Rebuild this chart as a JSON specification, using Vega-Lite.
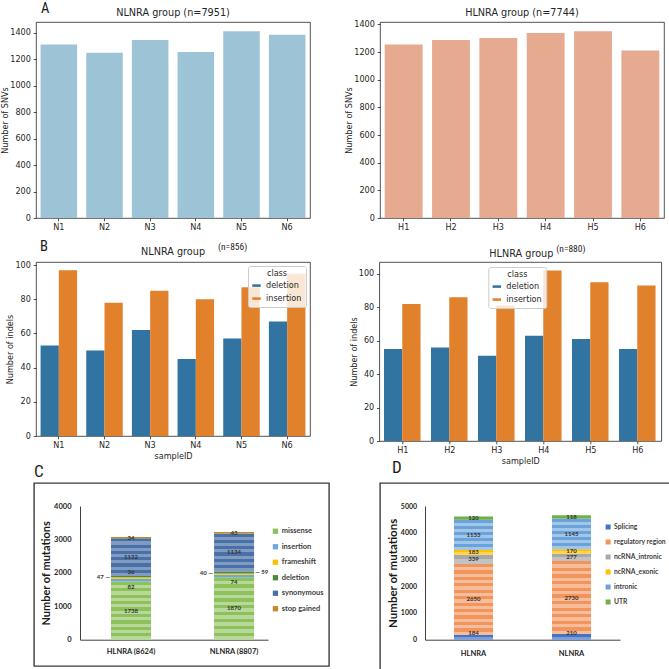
{
  "$schema": "https://vega.github.io/schema/vega-lite/v6.json",
  "autosize": {"type": "pad"},
  "padding": 0,
  "background": "white",
  "config": {
    "font": "DejaVu Sans",
    "view": {"stroke": "#262626", "strokeWidth": 0.8},
    "axis": {
      "grid": false, "domain": false, "labelOverlap": false, "tickCount": 20,
      "tickColor": "#262626", "tickSize": 2.8, "tickWidth": 0.8,
      "labelFont": "DejaVu Sans", "labelFontSize": 8.1, "labelColor": "#262626", "labelPadding": 2.8,
      "titleFont": "DejaVu Sans", "titleFontSize": 8.1, "titleFontWeight": "normal", "titleColor": "#262626", "titlePadding": 0.2
    },
    "title": {"font": "DejaVu Sans", "fontSize": 9.7, "fontWeight": "normal", "color": "#262626", "offset": 4},
    "legend": {"labelFont": "DejaVu Sans", "titleFont": "DejaVu Sans"}
  },
  "datasets": {
    "snv": [
      {"sample": "N1", "group": "NLNRA", "count": 1311},
      {"sample": "N2", "group": "NLNRA", "count": 1248},
      {"sample": "N3", "group": "NLNRA", "count": 1344},
      {"sample": "N4", "group": "NLNRA", "count": 1253},
      {"sample": "N5", "group": "NLNRA", "count": 1410},
      {"sample": "N6", "group": "NLNRA", "count": 1385},
      {"sample": "H1", "group": "HLNRA", "count": 1254},
      {"sample": "H2", "group": "HLNRA", "count": 1288},
      {"sample": "H3", "group": "HLNRA", "count": 1302},
      {"sample": "H4", "group": "HLNRA", "count": 1338},
      {"sample": "H5", "group": "HLNRA", "count": 1350},
      {"sample": "H6", "group": "HLNRA", "count": 1212}
    ],
    "indel": [
      {"sample": "N1", "group": "NLNRA", "class": "deletion", "count": 53},
      {"sample": "N1", "group": "NLNRA", "class": "insertion", "count": 97},
      {"sample": "N2", "group": "NLNRA", "class": "deletion", "count": 50},
      {"sample": "N2", "group": "NLNRA", "class": "insertion", "count": 78},
      {"sample": "N3", "group": "NLNRA", "class": "deletion", "count": 62},
      {"sample": "N3", "group": "NLNRA", "class": "insertion", "count": 85},
      {"sample": "N4", "group": "NLNRA", "class": "deletion", "count": 45},
      {"sample": "N4", "group": "NLNRA", "class": "insertion", "count": 80},
      {"sample": "N5", "group": "NLNRA", "class": "deletion", "count": 57},
      {"sample": "N5", "group": "NLNRA", "class": "insertion", "count": 87},
      {"sample": "N6", "group": "NLNRA", "class": "deletion", "count": 67},
      {"sample": "N6", "group": "NLNRA", "class": "insertion", "count": 95},
      {"sample": "H1", "group": "HLNRA", "class": "deletion", "count": 55},
      {"sample": "H1", "group": "HLNRA", "class": "insertion", "count": 82},
      {"sample": "H2", "group": "HLNRA", "class": "deletion", "count": 56},
      {"sample": "H2", "group": "HLNRA", "class": "insertion", "count": 86},
      {"sample": "H3", "group": "HLNRA", "class": "deletion", "count": 51},
      {"sample": "H3", "group": "HLNRA", "class": "insertion", "count": 81},
      {"sample": "H4", "group": "HLNRA", "class": "deletion", "count": 63},
      {"sample": "H4", "group": "HLNRA", "class": "insertion", "count": 102},
      {"sample": "H5", "group": "HLNRA", "class": "deletion", "count": 61},
      {"sample": "H5", "group": "HLNRA", "class": "insertion", "count": 95},
      {"sample": "H6", "group": "HLNRA", "class": "deletion", "count": 55},
      {"sample": "H6", "group": "HLNRA", "class": "insertion", "count": 93}
    ],
    "coding": [
      {"group": "HLNRA (8624)", "type": "missense", "count": 1738},
      {"group": "HLNRA (8624)", "type": "insertion", "count": 82},
      {"group": "HLNRA (8624)", "type": "frameshift", "count": 47},
      {"group": "HLNRA (8624)", "type": "deletion", "count": 36},
      {"group": "HLNRA (8624)", "type": "synonymous", "count": 1132},
      {"group": "HLNRA (8624)", "type": "stop gained", "count": 34},
      {"group": "NLNRA (8807)", "type": "missense", "count": 1870},
      {"group": "NLNRA (8807)", "type": "insertion", "count": 74},
      {"group": "NLNRA (8807)", "type": "frameshift", "count": 40},
      {"group": "NLNRA (8807)", "type": "deletion", "count": 59},
      {"group": "NLNRA (8807)", "type": "synonymous", "count": 1134},
      {"group": "NLNRA (8807)", "type": "stop gained", "count": 43}
    ],
    "region": [
      {"group": "HLNRA", "type": "Splicing", "count": 184},
      {"group": "HLNRA", "type": "regulatory region", "count": 2650},
      {"group": "HLNRA", "type": "ncRNA_intronic", "count": 339},
      {"group": "HLNRA", "type": "ncRNA_exonic", "count": 183},
      {"group": "HLNRA", "type": "intronic", "count": 1133},
      {"group": "HLNRA", "type": "UTR", "count": 120},
      {"group": "NLNRA", "type": "Splicing", "count": 210},
      {"group": "NLNRA", "type": "regulatory region", "count": 2730},
      {"group": "NLNRA", "type": "ncRNA_intronic", "count": 277},
      {"group": "NLNRA", "type": "ncRNA_exonic", "count": 170},
      {"group": "NLNRA", "type": "intronic", "count": 1145},
      {"group": "NLNRA", "type": "UTR", "count": 118}
    ]
  },
  "resolve": {"scale": {"color": "independent"}, "legend": {"color": "independent"}},
  "align": "none",
  "spacing": 5,
  "vconcat": [
    {
      "spacing": 0,
      "resolve": {"scale": {"color": "independent"}, "legend": {"color": "independent"}},
      "hconcat": [
        {"width": 0.5, "height": 1, "data": {"values": []}, "mark": "point", "view": {"stroke": null}},
        {
          "spacing": 34,
          "resolve": {"scale": {"color": "independent"}, "legend": {"color": "independent"}},
          "hconcat": [
            {
              "width": 274, "height": 196,
              "layer": [
                {
                  "data": {"name": "snv"},
                  "transform": [{"filter": "datum.group === 'NLNRA'"}],
                  "mark": {"type": "bar", "color": "#9dc3d6"},
                  "encoding": {
                    "x": {"field": "sample", "type": "nominal", "scale": {"domain": ["N1", "N2", "N3", "N4", "N5", "N6"], "paddingInner": 0.2, "paddingOuter": 0.1}, "axis": {"title": null, "labelAngle": 0}},
                    "y": {"field": "count", "type": "quantitative", "scale": {"domain": [0, 1480.5], "nice": false}, "axis": {"title": "Number of SNVs", "values": [0, 200, 400, 600, 800, 1000, 1200, 1400], "tickCount": 20, "format": "d", "labelOverlap": false}}
                  }
                },
                {
                  "data": {"values": [{}]},
                  "mark": {"type": "text", "text": "NLNRA group (n=7951)", "fontSize": 9.7, "align": "center", "baseline": "alphabetic", "dx": -22.8, "color": "#262626"},
                  "encoding": {
                    "x": {"datum": "N4", "type": "nominal"},
                    "y": {"datum": 1525.8, "type": "quantitative"}
                  }
                },
                {
                  "data": {"values": [{}]},
                  "mark": {"type": "text", "text": "A", "font": "Liberation Sans Narrow, Roboto Condensed, DejaVu Sans Condensed, Liberation Sans", "fontSize": 14.5, "align": "left", "baseline": "alphabetic", "dx": -17.8, "color": "#1a1a1a"},
                  "encoding": {
                    "x": {"datum": "N1", "type": "nominal"},
                    "y": {"datum": 1552, "type": "quantitative"}
                  }
                }
              ]
            },
            {
              "width": 284, "height": 196,
              "layer": [
                {
                  "data": {"name": "snv"},
                  "transform": [{"filter": "datum.group === 'HLNRA'"}],
                  "mark": {"type": "bar", "color": "#e5aa8f"},
                  "encoding": {
                    "x": {"field": "sample", "type": "nominal", "scale": {"domain": ["H1", "H2", "H3", "H4", "H5", "H6"], "paddingInner": 0.2, "paddingOuter": 0.1}, "axis": {"title": null, "labelAngle": 0}},
                    "y": {"field": "count", "type": "quantitative", "scale": {"domain": [0, 1417.5], "nice": false}, "axis": {"title": "Number of SNVs", "values": [0, 200, 400, 600, 800, 1000, 1200, 1400], "tickCount": 20, "format": "d", "labelOverlap": false}}
                  }
                },
                {
                  "data": {"values": [{}]},
                  "mark": {"type": "text", "text": "HLNRA group (n=7744)", "fontSize": 9.7, "align": "center", "baseline": "alphabetic", "dx": -23.7, "color": "#262626"},
                  "encoding": {
                    "x": {"datum": "H4", "type": "nominal"},
                    "y": {"datum": 1460.9, "type": "quantitative"}
                  }
                }
              ]
            }
          ]
        }
      ]
    },
    {
      "align": "none",
      "spacing": -9,
      "resolve": {"scale": {"color": "independent"}, "legend": {"color": "independent"}},
      "vconcat": [
        {
          "spacing": 0,
          "resolve": {"scale": {"color": "independent"}, "legend": {"color": "independent"}},
          "hconcat": [
            {"width": 5.7, "height": 1, "data": {"values": []}, "mark": "point", "view": {"stroke": null}},
            {
              "spacing": 38.3,
              "resolve": {"scale": {"color": "independent"}, "legend": {"color": "independent"}},
              "hconcat": [
                {
                  "width": 274, "height": 174,
                  "layer": [
                    {
                      "data": {"name": "indel"},
                      "transform": [{"filter": "datum.group === 'NLNRA'"}],
                      "mark": {"type": "bar"},
                      "encoding": {
                        "x": {"field": "sample", "type": "nominal", "scale": {"domain": ["N1", "N2", "N3", "N4", "N5", "N6"], "paddingInner": 0.2, "paddingOuter": 0.1}, "axis": {"title": "sampleID", "titlePadding": 3.2, "labelAngle": 0}},
                        "xOffset": {"field": "class", "type": "nominal", "scale": {"domain": ["deletion", "insertion"], "paddingInner": 0, "paddingOuter": 0}},
                        "y": {"field": "count", "type": "quantitative", "scale": {"domain": [0, 101.85], "nice": false}, "axis": {"title": "Number of indels", "values": [0, 20, 40, 60, 80, 100], "tickCount": 20, "format": "d", "labelOverlap": false}},
                        "color": {
                          "field": "class", "type": "nominal",
                          "scale": {"domain": ["deletion", "insertion"], "range": ["#3274a1", "#e1812c"]},
                          "legend": {
                            "title": "class", "orient": "top-right", "offset": 4,
                            "titleAnchor": "middle", "titleFontWeight": "normal", "titleFontSize": 8.1, "titleColor": "#262626", "titlePadding": 3,
                            "labelFontSize": 8.1, "labelColor": "#262626", "labelOffset": 5,
                            "symbolType": "M-1,-0.3H1V0.3H-1Z", "symbolSize": 72, "symbolStrokeWidth": 0, "symbolOpacity": 1,
                            "rowPadding": 4, "padding": 4,
                            "fillColor": "rgba(255,255,255,0.8)", "strokeColor": "#cccccc", "cornerRadius": 2
                          }
                        }
                      }
                    },
                    {
                      "data": {"values": [{}]},
                      "mark": {"type": "text", "text": "NLNRA group", "fontSize": 9.7, "align": "center", "baseline": "alphabetic", "dx": -22.8, "color": "#262626"},
                      "encoding": {
                        "x": {"datum": "N4", "type": "nominal"},
                        "y": {"datum": 105.95, "type": "quantitative"}
                      }
                    },
                    {
                      "data": {"values": [{}]},
                      "mark": {"type": "text", "text": "B", "font": "Liberation Sans Narrow, Roboto Condensed, DejaVu Sans Condensed, Liberation Sans", "fontSize": 14.5, "align": "left", "baseline": "alphabetic", "dx": -18.8, "color": "#1a1a1a"},
                      "encoding": {
                        "x": {"datum": "N1", "type": "nominal"},
                        "y": {"datum": 108.3, "type": "quantitative"}
                      }
                    },
                    {
                      "data": {"values": [{}]},
                      "mark": {"type": "text", "text": "(n=856)", "font": "Liberation Sans Narrow, Roboto Condensed, DejaVu Sans Condensed, Liberation Sans", "fontSize": 9.5, "align": "left", "baseline": "alphabetic", "dx": -23.5, "color": "#262626"},
                      "encoding": {
                        "x": {"datum": "N5", "type": "nominal"},
                        "y": {"datum": 108.9, "type": "quantitative"}
                      }
                    }
                  ]
                },
                {
                  "width": 282, "height": 179,
                  "layer": [
                    {
                      "data": {"name": "indel"},
                      "transform": [{"filter": "datum.group === 'HLNRA'"}],
                      "mark": {"type": "bar"},
                      "encoding": {
                        "x": {"field": "sample", "type": "nominal", "scale": {"domain": ["H1", "H2", "H3", "H4", "H5", "H6"], "paddingInner": 0.2, "paddingOuter": 0.1}, "axis": {"title": "sampleID", "titlePadding": 3.2, "labelAngle": 0}},
                        "xOffset": {"field": "class", "type": "nominal", "scale": {"domain": ["deletion", "insertion"], "paddingInner": 0, "paddingOuter": 0}},
                        "y": {"field": "count", "type": "quantitative", "scale": {"domain": [0, 107.1], "nice": false}, "axis": {"title": "Number of indels", "values": [0, 20, 40, 60, 80, 100], "tickCount": 20, "format": "d", "labelOverlap": false}},
                        "color": {
                          "field": "class", "type": "nominal",
                          "scale": {"domain": ["deletion", "insertion"], "range": ["#3274a1", "#e1812c"]},
                          "legend": {
                            "title": "class", "orient": "none", "legendX": 109, "legendY": 5,
                            "titleAnchor": "middle", "titleFontWeight": "normal", "titleFontSize": 8.1, "titleColor": "#262626", "titlePadding": 3,
                            "labelFontSize": 8.1, "labelColor": "#262626", "labelOffset": 5,
                            "symbolType": "M-1,-0.3H1V0.3H-1Z", "symbolSize": 72, "symbolStrokeWidth": 0, "symbolOpacity": 1,
                            "rowPadding": 4, "padding": 4,
                            "fillColor": "rgba(255,255,255,0.8)", "strokeColor": "#cccccc", "cornerRadius": 2
                          }
                        }
                      }
                    },
                    {
                      "data": {"values": [{}]},
                      "mark": {"type": "text", "text": "HLNRA group", "fontSize": 9.7, "align": "center", "baseline": "alphabetic", "dx": -22.5, "color": "#262626"},
                      "encoding": {
                        "x": {"datum": "H4", "type": "nominal"},
                        "y": {"datum": 110.1, "type": "quantitative"}
                      }
                    },
                    {
                      "data": {"values": [{}]},
                      "mark": {"type": "text", "text": "(n=880)", "font": "Liberation Sans Narrow, Roboto Condensed, DejaVu Sans Condensed, Liberation Sans", "fontSize": 9.5, "align": "left", "baseline": "alphabetic", "dx": 12.5, "color": "#262626"},
                      "encoding": {
                        "x": {"datum": "H4", "type": "nominal"},
                        "y": {"datum": 113.1, "type": "quantitative"}
                      }
                    }
                  ]
                }
              ]
            }
          ]
        },
        {
          "spacing": 0,
          "resolve": {"scale": {"color": "independent"}, "legend": {"color": "independent"}},
          "hconcat": [
            {"width": 33, "height": 1, "data": {"values": []}, "mark": "point", "view": {"stroke": null}},
            {
              "spacing": 49,
              "resolve": {"scale": {"color": "independent"}, "legend": {"color": "independent"}},
              "hconcat": [
                {
                  "width": 295, "height": 183,
                  "data": {"name": "coding"},
                  "view": {"stroke": "#3b3b3b", "strokeWidth": 1.4},
                  "title": {"text": "C", "anchor": "start", "frame": "group", "offset": 2, "font": "Liberation Sans Narrow, Roboto Condensed, DejaVu Sans Condensed, Liberation Sans", "fontSize": 17, "color": "#1a1a1a"},
                  "transform": [
                    {"calculate": "indexof(['missense','insertion','frameshift','deletion','synonymous','stop gained'], datum.type)", "as": "k"},
                    {"stack": "count", "groupby": ["group"], "sort": [{"field": "k", "order": "ascending"}], "as": ["lo", "hi"]},
                    {"calculate": "(datum.lo + datum.hi) / 2", "as": "mid"}
                  ],
                  "layer": [
                    {
                      "mark": {"type": "bar"},
                      "encoding": {
                        "x": {"field": "group", "type": "nominal", "scale": {"domain": ["HLNRA (8624)", "NLNRA (8807)"], "range": [46, 234], "paddingInner": 0.612, "paddingOuter": 0.218, "align": 0.69}, "axis": {"title": null, "offset": -26.3, "domain": true, "domainColor": "#404040", "domainWidth": 1, "ticks": false, "labelAngle": 0, "labelPadding": 8, "labelFont": "Lato", "labelFontWeight": "bold", "labelFontSize": 7.5, "labelColor": "#262626"}},
                        "y": {"field": "lo", "type": "quantitative", "scale": {"domain": [0, 4000], "range": [156.7, 23], "nice": false}, "axis": {"title": "Number of mutations", "offset": -46, "values": [0, 1000, 2000, 3000, 4000], "tickCount": 20, "format": "d", "labelOverlap": false, "domain": true, "domainColor": "#404040", "domainWidth": 1, "ticks": false, "labelPadding": 9, "labelFont": "Lato", "labelFontWeight": "bold", "labelFontSize": 7.5, "labelColor": "#262626", "titleFont": "Lato", "titleFontWeight": "bold", "titleFontSize": 11, "titleColor": "#1a1a1a", "titlePadding": 2}},
                        "y2": {"field": "hi"},
                        "color": {
                          "field": "type", "type": "nominal",
                          "scale": {"domain": ["missense", "insertion", "frameshift", "deletion", "synonymous", "stop gained"], "range": ["#8cc15c", "#6ea6dd", "#ffc000", "#4b8a3a", "#4a70a8", "#c5892c"]},
                          "legend": {"title": null, "orient": "none", "legendX": 237.7, "legendY": 44.5, "symbolType": "square", "symbolSize": 28, "symbolStrokeWidth": 0, "symbolOpacity": 1, "labelFont": "Lato", "labelFontWeight": "bold", "labelFontSize": 7.5, "labelColor": "#404040", "labelOffset": 2.5, "rowPadding": 6.5, "padding": 0}
                        }
                      }
                    },
                    {
                      "transform": [{"filter": "datum.type === 'missense'"}],
                      "mark": {"type": "bar", "fill": {"gradient": "linear", "x1": 0, "y1": 0, "x2": 0, "y2": 1, "stops": [
                        {"offset": 0, "color": "rgba(255,255,255,0)"},
                        {"offset": 0.0556, "color": "rgba(255,255,255,0)"}, {"offset": 0.0556, "color": "rgba(255,255,255,0.38)"},
                        {"offset": 0.1111, "color": "rgba(255,255,255,0.38)"}, {"offset": 0.1111, "color": "rgba(255,255,255,0)"},
                        {"offset": 0.1667, "color": "rgba(255,255,255,0)"}, {"offset": 0.1667, "color": "rgba(255,255,255,0.38)"},
                        {"offset": 0.2222, "color": "rgba(255,255,255,0.38)"}, {"offset": 0.2222, "color": "rgba(255,255,255,0)"},
                        {"offset": 0.2778, "color": "rgba(255,255,255,0)"}, {"offset": 0.2778, "color": "rgba(255,255,255,0.38)"},
                        {"offset": 0.3333, "color": "rgba(255,255,255,0.38)"}, {"offset": 0.3333, "color": "rgba(255,255,255,0)"},
                        {"offset": 0.3889, "color": "rgba(255,255,255,0)"}, {"offset": 0.3889, "color": "rgba(255,255,255,0.38)"},
                        {"offset": 0.4444, "color": "rgba(255,255,255,0.38)"}, {"offset": 0.4444, "color": "rgba(255,255,255,0)"},
                        {"offset": 0.5, "color": "rgba(255,255,255,0)"}, {"offset": 0.5, "color": "rgba(255,255,255,0.38)"},
                        {"offset": 0.5556, "color": "rgba(255,255,255,0.38)"}, {"offset": 0.5556, "color": "rgba(255,255,255,0)"},
                        {"offset": 0.6111, "color": "rgba(255,255,255,0)"}, {"offset": 0.6111, "color": "rgba(255,255,255,0.38)"},
                        {"offset": 0.6667, "color": "rgba(255,255,255,0.38)"}, {"offset": 0.6667, "color": "rgba(255,255,255,0)"},
                        {"offset": 0.7222, "color": "rgba(255,255,255,0)"}, {"offset": 0.7222, "color": "rgba(255,255,255,0.38)"},
                        {"offset": 0.7778, "color": "rgba(255,255,255,0.38)"}, {"offset": 0.7778, "color": "rgba(255,255,255,0)"},
                        {"offset": 0.8333, "color": "rgba(255,255,255,0)"}, {"offset": 0.8333, "color": "rgba(255,255,255,0.38)"},
                        {"offset": 0.8889, "color": "rgba(255,255,255,0.38)"}, {"offset": 0.8889, "color": "rgba(255,255,255,0)"},
                        {"offset": 0.9444, "color": "rgba(255,255,255,0)"}, {"offset": 0.9444, "color": "rgba(255,255,255,0.38)"},
                        {"offset": 1, "color": "rgba(255,255,255,0.38)"}
                      ]}},
                      "encoding": {
                        "x": {"field": "group", "type": "nominal", "scale": {"domain": ["HLNRA (8624)", "NLNRA (8807)"], "range": [46, 234], "paddingInner": 0.612, "paddingOuter": 0.218, "align": 0.69}},
                        "y": {"field": "lo", "type": "quantitative", "scale": {"domain": [0, 4000], "range": [156.7, 23], "nice": false}},
                        "y2": {"field": "hi"}
                      }
                    },
                    {
                      "transform": [{"filter": "datum.type === 'synonymous'"}],
                      "mark": {"type": "bar", "fill": {"gradient": "linear", "x1": 0, "y1": 0, "x2": 0, "y2": 1, "stops": [
                        {"offset": 0, "color": "rgba(255,255,255,0)"},
                        {"offset": 0.0833, "color": "rgba(255,255,255,0)"}, {"offset": 0.0833, "color": "rgba(255,255,255,0.3)"},
                        {"offset": 0.1667, "color": "rgba(255,255,255,0.3)"}, {"offset": 0.1667, "color": "rgba(255,255,255,0)"},
                        {"offset": 0.25, "color": "rgba(255,255,255,0)"}, {"offset": 0.25, "color": "rgba(255,255,255,0.3)"},
                        {"offset": 0.3333, "color": "rgba(255,255,255,0.3)"}, {"offset": 0.3333, "color": "rgba(255,255,255,0)"},
                        {"offset": 0.4167, "color": "rgba(255,255,255,0)"}, {"offset": 0.4167, "color": "rgba(255,255,255,0.3)"},
                        {"offset": 0.5, "color": "rgba(255,255,255,0.3)"}, {"offset": 0.5, "color": "rgba(255,255,255,0)"},
                        {"offset": 0.5833, "color": "rgba(255,255,255,0)"}, {"offset": 0.5833, "color": "rgba(255,255,255,0.3)"},
                        {"offset": 0.6667, "color": "rgba(255,255,255,0.3)"}, {"offset": 0.6667, "color": "rgba(255,255,255,0)"},
                        {"offset": 0.75, "color": "rgba(255,255,255,0)"}, {"offset": 0.75, "color": "rgba(255,255,255,0.3)"},
                        {"offset": 0.8333, "color": "rgba(255,255,255,0.3)"}, {"offset": 0.8333, "color": "rgba(255,255,255,0)"},
                        {"offset": 0.9167, "color": "rgba(255,255,255,0)"}, {"offset": 0.9167, "color": "rgba(255,255,255,0.3)"},
                        {"offset": 1, "color": "rgba(255,255,255,0.3)"}
                      ]}},
                      "encoding": {
                        "x": {"field": "group", "type": "nominal", "scale": {"domain": ["HLNRA (8624)", "NLNRA (8807)"], "range": [46, 234], "paddingInner": 0.612, "paddingOuter": 0.218, "align": 0.69}},
                        "y": {"field": "lo", "type": "quantitative", "scale": {"domain": [0, 4000], "range": [156.7, 23], "nice": false}},
                        "y2": {"field": "hi"}
                      }
                    },
                    {
                      "transform": [{"filter": "indexof(['missense','synonymous','stop gained'], datum.type) >= 0"}],
                      "mark": {"type": "text", "font": "Lato", "fontWeight": "bold", "fontSize": 6, "color": "#333333"},
                      "encoding": {
                        "x": {"field": "group", "type": "nominal", "scale": {"domain": ["HLNRA (8624)", "NLNRA (8807)"], "range": [46, 234], "paddingInner": 0.612, "paddingOuter": 0.218, "align": 0.69}},
                        "y": {"field": "mid", "type": "quantitative", "scale": {"domain": [0, 4000], "range": [156.7, 23], "nice": false}},
                        "text": {"field": "count", "type": "quantitative", "format": "d"}
                      }
                    },
                    {
                      "transform": [{"filter": "datum.type === 'insertion'"}],
                      "mark": {"type": "text", "font": "Lato", "fontWeight": "bold", "fontSize": 6, "color": "#333333", "dy": 6.5},
                      "encoding": {
                        "x": {"field": "group", "type": "nominal", "scale": {"domain": ["HLNRA (8624)", "NLNRA (8807)"], "range": [46, 234], "paddingInner": 0.612, "paddingOuter": 0.218, "align": 0.69}},
                        "y": {"field": "mid", "type": "quantitative", "scale": {"domain": [0, 4000], "range": [156.7, 23], "nice": false}},
                        "text": {"field": "count", "type": "quantitative", "format": "d"}
                      }
                    },
                    {
                      "transform": [{"filter": "datum.type === 'deletion' && datum.group === 'HLNRA (8624)'"}],
                      "mark": {"type": "text", "font": "Lato", "fontWeight": "bold", "fontSize": 6, "color": "#333333", "dy": -5},
                      "encoding": {
                        "x": {"field": "group", "type": "nominal", "scale": {"domain": ["HLNRA (8624)", "NLNRA (8807)"], "range": [46, 234], "paddingInner": 0.612, "paddingOuter": 0.218, "align": 0.69}},
                        "y": {"field": "mid", "type": "quantitative", "scale": {"domain": [0, 4000], "range": [156.7, 23], "nice": false}},
                        "text": {"field": "count", "type": "quantitative", "format": "d"}
                      }
                    },
                    {
                      "transform": [
                        {"filter": "datum.type === 'frameshift'"},
                        {"calculate": "datum.count + ' —'", "as": "lbl"}
                      ],
                      "mark": {"type": "text", "font": "Lato", "fontWeight": "bold", "fontSize": 6, "color": "#333333", "align": "right", "dx": -1, "dy": -1},
                      "encoding": {
                        "x": {"field": "group", "type": "nominal", "bandPosition": 0, "scale": {"domain": ["HLNRA (8624)", "NLNRA (8807)"], "range": [46, 234], "paddingInner": 0.612, "paddingOuter": 0.218, "align": 0.69}},
                        "y": {"field": "mid", "type": "quantitative", "scale": {"domain": [0, 4000], "range": [156.7, 23], "nice": false}},
                        "text": {"field": "lbl", "type": "nominal"}
                      }
                    },
                    {
                      "transform": [
                        {"filter": "datum.type === 'deletion' && datum.group === 'NLNRA (8807)'"},
                        {"calculate": "'— ' + datum.count", "as": "lbl"}
                      ],
                      "mark": {"type": "text", "font": "Lato", "fontWeight": "bold", "fontSize": 6, "color": "#333333", "align": "left", "dx": 1},
                      "encoding": {
                        "x": {"field": "group", "type": "nominal", "bandPosition": 1, "scale": {"domain": ["HLNRA (8624)", "NLNRA (8807)"], "range": [46, 234], "paddingInner": 0.612, "paddingOuter": 0.218, "align": 0.69}},
                        "y": {"field": "mid", "type": "quantitative", "scale": {"domain": [0, 4000], "range": [156.7, 23], "nice": false}},
                        "text": {"field": "lbl", "type": "nominal"}
                      }
                    }
                  ]
                },
                {
                  "width": 291, "height": 187,
                  "data": {"name": "region"},
                  "view": {"stroke": "#3b3b3b", "strokeWidth": 1.4},
                  "title": {"text": "D", "anchor": "start", "frame": "group", "offset": 6, "dx": 12, "font": "Liberation Sans Narrow, Roboto Condensed, DejaVu Sans Condensed, Liberation Sans", "fontSize": 17, "color": "#1a1a1a"},
                  "transform": [
                    {"calculate": "indexof(['Splicing','regulatory region','ncRNA_intronic','ncRNA_exonic','intronic','UTR'], datum.type)", "as": "k"},
                    {"stack": "count", "groupby": ["group"], "sort": [{"field": "k", "order": "ascending"}], "as": ["lo", "hi"]},
                    {"calculate": "(datum.lo + datum.hi) / 2", "as": "mid"}
                  ],
                  "layer": [
                    {
                      "mark": {"type": "bar"},
                      "encoding": {
                        "x": {"field": "group", "type": "nominal", "scale": {"domain": ["HLNRA", "NLNRA"], "range": [45, 240], "paddingInner": 0.602, "paddingOuter": 0.296, "align": 0.5}, "axis": {"title": null, "offset": -30.3, "domain": true, "domainColor": "#404040", "domainWidth": 1, "ticks": false, "labelAngle": 0, "labelPadding": 10, "labelFont": "Lato", "labelFontWeight": "bold", "labelFontSize": 7.5, "labelColor": "#262626"}},
                        "y": {"field": "lo", "type": "quantitative", "scale": {"domain": [0, 5000], "range": [156.7, 23], "nice": false}, "axis": {"title": "Number of mutations", "offset": -45, "values": [0, 1000, 2000, 3000, 4000, 5000], "tickCount": 20, "format": "d", "labelOverlap": false, "domain": true, "domainColor": "#404040", "domainWidth": 1, "ticks": false, "labelPadding": 8.4, "labelFont": "Lato", "labelFontWeight": "bold", "labelFontSize": 7, "labelColor": "#262626", "titleFont": "Lato", "titleFontWeight": "bold", "titleFontSize": 11.5, "titleColor": "#1a1a1a", "titlePadding": 2}},
                        "y2": {"field": "hi"},
                        "color": {
                          "field": "type", "type": "nominal",
                          "scale": {"domain": ["Splicing", "regulatory region", "ncRNA_intronic", "ncRNA_exonic", "intronic", "UTR"], "range": ["#4472c4", "#f2955c", "#a8a8a8", "#ffc000", "#6aa2da", "#6fb04a"]},
                          "legend": {"title": null, "orient": "none", "legendX": 224.7, "legendY": 40.6, "symbolType": "square", "symbolSize": 25, "symbolStrokeWidth": 0, "symbolOpacity": 1, "labelFont": "Lato", "labelFontWeight": "bold", "labelFontSize": 6.8, "labelColor": "#404040", "labelOffset": 2.5, "labelLimit": 56, "rowPadding": 7, "padding": 0}
                        }
                      }
                    },
                    {
                      "transform": [{"filter": "datum.type === 'regulatory region'"}],
                      "mark": {"type": "bar", "fill": {"gradient": "linear", "x1": 0, "y1": 0, "x2": 0, "y2": 1, "stops": [
                        {"offset": 0, "color": "rgba(255,255,255,0)"},
                        {"offset": 0.0455, "color": "rgba(255,255,255,0)"}, {"offset": 0.0455, "color": "rgba(255,255,255,0.38)"},
                        {"offset": 0.0909, "color": "rgba(255,255,255,0.38)"}, {"offset": 0.0909, "color": "rgba(255,255,255,0)"},
                        {"offset": 0.1364, "color": "rgba(255,255,255,0)"}, {"offset": 0.1364, "color": "rgba(255,255,255,0.38)"},
                        {"offset": 0.1818, "color": "rgba(255,255,255,0.38)"}, {"offset": 0.1818, "color": "rgba(255,255,255,0)"},
                        {"offset": 0.2273, "color": "rgba(255,255,255,0)"}, {"offset": 0.2273, "color": "rgba(255,255,255,0.38)"},
                        {"offset": 0.2727, "color": "rgba(255,255,255,0.38)"}, {"offset": 0.2727, "color": "rgba(255,255,255,0)"},
                        {"offset": 0.3182, "color": "rgba(255,255,255,0)"}, {"offset": 0.3182, "color": "rgba(255,255,255,0.38)"},
                        {"offset": 0.3636, "color": "rgba(255,255,255,0.38)"}, {"offset": 0.3636, "color": "rgba(255,255,255,0)"},
                        {"offset": 0.4091, "color": "rgba(255,255,255,0)"}, {"offset": 0.4091, "color": "rgba(255,255,255,0.38)"},
                        {"offset": 0.4545, "color": "rgba(255,255,255,0.38)"}, {"offset": 0.4545, "color": "rgba(255,255,255,0)"},
                        {"offset": 0.5, "color": "rgba(255,255,255,0)"}, {"offset": 0.5, "color": "rgba(255,255,255,0.38)"},
                        {"offset": 0.5455, "color": "rgba(255,255,255,0.38)"}, {"offset": 0.5455, "color": "rgba(255,255,255,0)"},
                        {"offset": 0.5909, "color": "rgba(255,255,255,0)"}, {"offset": 0.5909, "color": "rgba(255,255,255,0.38)"},
                        {"offset": 0.6364, "color": "rgba(255,255,255,0.38)"}, {"offset": 0.6364, "color": "rgba(255,255,255,0)"},
                        {"offset": 0.6818, "color": "rgba(255,255,255,0)"}, {"offset": 0.6818, "color": "rgba(255,255,255,0.38)"},
                        {"offset": 0.7273, "color": "rgba(255,255,255,0.38)"}, {"offset": 0.7273, "color": "rgba(255,255,255,0)"},
                        {"offset": 0.7727, "color": "rgba(255,255,255,0)"}, {"offset": 0.7727, "color": "rgba(255,255,255,0.38)"},
                        {"offset": 0.8182, "color": "rgba(255,255,255,0.38)"}, {"offset": 0.8182, "color": "rgba(255,255,255,0)"},
                        {"offset": 0.8636, "color": "rgba(255,255,255,0)"}, {"offset": 0.8636, "color": "rgba(255,255,255,0.38)"},
                        {"offset": 0.9091, "color": "rgba(255,255,255,0.38)"}, {"offset": 0.9091, "color": "rgba(255,255,255,0)"},
                        {"offset": 0.9545, "color": "rgba(255,255,255,0)"}, {"offset": 0.9545, "color": "rgba(255,255,255,0.38)"},
                        {"offset": 1, "color": "rgba(255,255,255,0.38)"}
                      ]}},
                      "encoding": {
                        "x": {"field": "group", "type": "nominal", "scale": {"domain": ["HLNRA", "NLNRA"], "range": [45, 240], "paddingInner": 0.602, "paddingOuter": 0.296, "align": 0.5}},
                        "y": {"field": "lo", "type": "quantitative", "scale": {"domain": [0, 5000], "range": [156.7, 23], "nice": false}},
                        "y2": {"field": "hi"}
                      }
                    },
                    {
                      "transform": [{"filter": "datum.type === 'intronic'"}],
                      "mark": {"type": "bar", "fill": {"gradient": "linear", "x1": 0, "y1": 0, "x2": 0, "y2": 1, "stops": [
                        {"offset": 0, "color": "rgba(255,255,255,0)"},
                        {"offset": 0.1, "color": "rgba(255,255,255,0)"}, {"offset": 0.1, "color": "rgba(255,255,255,0.38)"},
                        {"offset": 0.2, "color": "rgba(255,255,255,0.38)"}, {"offset": 0.2, "color": "rgba(255,255,255,0)"},
                        {"offset": 0.3, "color": "rgba(255,255,255,0)"}, {"offset": 0.3, "color": "rgba(255,255,255,0.38)"},
                        {"offset": 0.4, "color": "rgba(255,255,255,0.38)"}, {"offset": 0.4, "color": "rgba(255,255,255,0)"},
                        {"offset": 0.5, "color": "rgba(255,255,255,0)"}, {"offset": 0.5, "color": "rgba(255,255,255,0.38)"},
                        {"offset": 0.6, "color": "rgba(255,255,255,0.38)"}, {"offset": 0.6, "color": "rgba(255,255,255,0)"},
                        {"offset": 0.7, "color": "rgba(255,255,255,0)"}, {"offset": 0.7, "color": "rgba(255,255,255,0.38)"},
                        {"offset": 0.8, "color": "rgba(255,255,255,0.38)"}, {"offset": 0.8, "color": "rgba(255,255,255,0)"},
                        {"offset": 0.9, "color": "rgba(255,255,255,0)"}, {"offset": 0.9, "color": "rgba(255,255,255,0.38)"},
                        {"offset": 1, "color": "rgba(255,255,255,0.38)"}
                      ]}},
                      "encoding": {
                        "x": {"field": "group", "type": "nominal", "scale": {"domain": ["HLNRA", "NLNRA"], "range": [45, 240], "paddingInner": 0.602, "paddingOuter": 0.296, "align": 0.5}},
                        "y": {"field": "lo", "type": "quantitative", "scale": {"domain": [0, 5000], "range": [156.7, 23], "nice": false}},
                        "y2": {"field": "hi"}
                      }
                    },
                    {
                      "transform": [{"filter": "indexof(['Splicing','ncRNA_intronic','ncRNA_exonic'], datum.type) >= 0"}],
                      "mark": {"type": "bar", "fill": {"gradient": "linear", "x1": 0, "y1": 0, "x2": 0, "y2": 1, "stops": [
                        {"offset": 0, "color": "rgba(255,255,255,0)"},
                        {"offset": 0.5, "color": "rgba(255,255,255,0)"}, {"offset": 0.5, "color": "rgba(255,255,255,0.3)"},
                        {"offset": 1, "color": "rgba(255,255,255,0.3)"}
                      ]}},
                      "encoding": {
                        "x": {"field": "group", "type": "nominal", "scale": {"domain": ["HLNRA", "NLNRA"], "range": [45, 240], "paddingInner": 0.602, "paddingOuter": 0.296, "align": 0.5}},
                        "y": {"field": "lo", "type": "quantitative", "scale": {"domain": [0, 5000], "range": [156.7, 23], "nice": false}},
                        "y2": {"field": "hi"}
                      }
                    },
                    {
                      "transform": [{"filter": "datum.type !== 'Splicing'"}],
                      "mark": {"type": "text", "font": "Lato", "fontWeight": "bold", "fontSize": 6, "color": "#333333"},
                      "encoding": {
                        "x": {"field": "group", "type": "nominal", "scale": {"domain": ["HLNRA", "NLNRA"], "range": [45, 240], "paddingInner": 0.602, "paddingOuter": 0.296, "align": 0.5}},
                        "y": {"field": "mid", "type": "quantitative", "scale": {"domain": [0, 5000], "range": [156.7, 23], "nice": false}},
                        "text": {"field": "count", "type": "quantitative", "format": "d"}
                      }
                    },
                    {
                      "transform": [{"filter": "datum.type === 'Splicing'"}],
                      "mark": {"type": "text", "font": "Lato", "fontWeight": "bold", "fontSize": 6, "color": "#333333", "dy": -4},
                      "encoding": {
                        "x": {"field": "group", "type": "nominal", "scale": {"domain": ["HLNRA", "NLNRA"], "range": [45, 240], "paddingInner": 0.602, "paddingOuter": 0.296, "align": 0.5}},
                        "y": {"field": "mid", "type": "quantitative", "scale": {"domain": [0, 5000], "range": [156.7, 23], "nice": false}},
                        "text": {"field": "count", "type": "quantitative", "format": "d"}
                      }
                    }
                  ]
                }
              ]
            }
          ]
        }
      ]
    }
  ]
}
